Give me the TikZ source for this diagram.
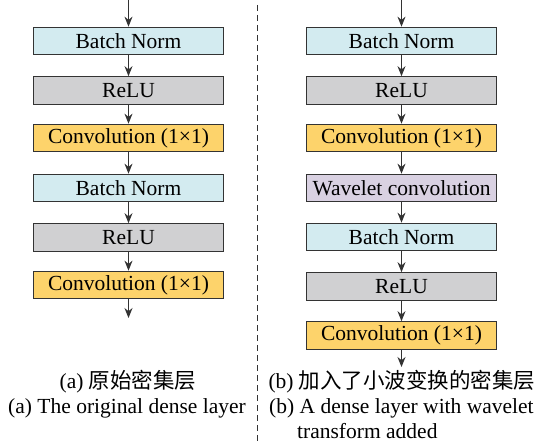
\documentclass[tikz,border=0pt]{standalone}
\usepackage{fontspec}
\setmainfont{Liberation Serif}
\newfontfamily\cjk{Noto Sans CJK SC}
\usetikzlibrary{arrows.meta}
\definecolor{boxline}{HTML}{333333}
\definecolor{bncol}{HTML}{D3EBF0}
\definecolor{relucol}{HTML}{D0D0D2}
\definecolor{convcol}{HTML}{FDD36B}
\definecolor{wavecol}{HTML}{D9D1E2}
\tikzset{
  layerbox/.style={draw=boxline, line width=1.2pt, minimum width=190pt,
    minimum height=27.5pt, inner sep=0pt, font=\fontsize{21.5}{25}\selectfont},
  flow/.style={draw=boxline, line width=1.1pt, -{Stealth[length=10pt,width=8pt]}},
  caption/.style={inner sep=0pt, font=\fontsize{21.5}{25}\selectfont}
}
\begin{document}
\begin{tikzpicture}[x=1pt,y=-1pt]
\useasboundingbox (0,0) rectangle (549,444);

% (a) original dense layer
\foreach \n/\y/\c/\t in {a1/41/bn/Batch Norm, a2/90.5/relu/ReLU, a3/138/conv/Convolution (1×1),
    a4/188/bn/Batch Norm, a5/237.5/relu/ReLU, a6/285/conv/Convolution (1×1)}
  \node[layerbox, fill=\c col] (\n) at (128.5,\y) {\t};
\coordinate (atop) at (128.5,0);
\coordinate (aend) at (128.5,318);
\foreach \u/\v in {atop/a1, a1/a2, a2/a3, a3/a4, a4/a5, a5/a6, a6/aend}
  \draw[flow] (\u) -- (\v);

% (b) dense layer with wavelet convolution
\foreach \n/\y/\c/\t in {b1/41/bn/Batch Norm, b2/90.5/relu/ReLU, b3/138/conv/Convolution (1×1),
    b4/188/wave/Wavelet convolution, b5/237/bn/Batch Norm, b6/286.5/relu/ReLU,
    b7/335.5/conv/Convolution (1×1)}
  \node[layerbox, fill=\c col] (\n) at (401.5,\y) {\t};
\coordinate (btop) at (401.5,0);
\coordinate (bend) at (401.5,367);
\foreach \u/\v in {btop/b1, b1/b2, b2/b3, b3/b4, b4/b5, b5/b6, b6/b7, b7/bend}
  \draw[flow] (\u) -- (\v);

% separator
\coordinate (dtop) at (257,5);
\coordinate (dbot) at (257,444);
\draw[boxline, line width=1pt, dash pattern=on 6pt off 4pt] (dtop) -- (dbot);

% captions
\node[caption] (capa1) at (128,382) {(a) {\cjk 原始密集层}};
\node[caption] (capa2) at (127,408) {(a) The original dense layer};
\node[caption] (capb1) at (402,382) {(b) {\cjk 加入了小波变换的密集层}};
\node[caption, anchor=west] (capb2) at (269,408) {(b) A dense layer with wavelet};
\node[caption, anchor=west] (capb3) at (297,431) {transform added};
\end{tikzpicture}
\end{document}
